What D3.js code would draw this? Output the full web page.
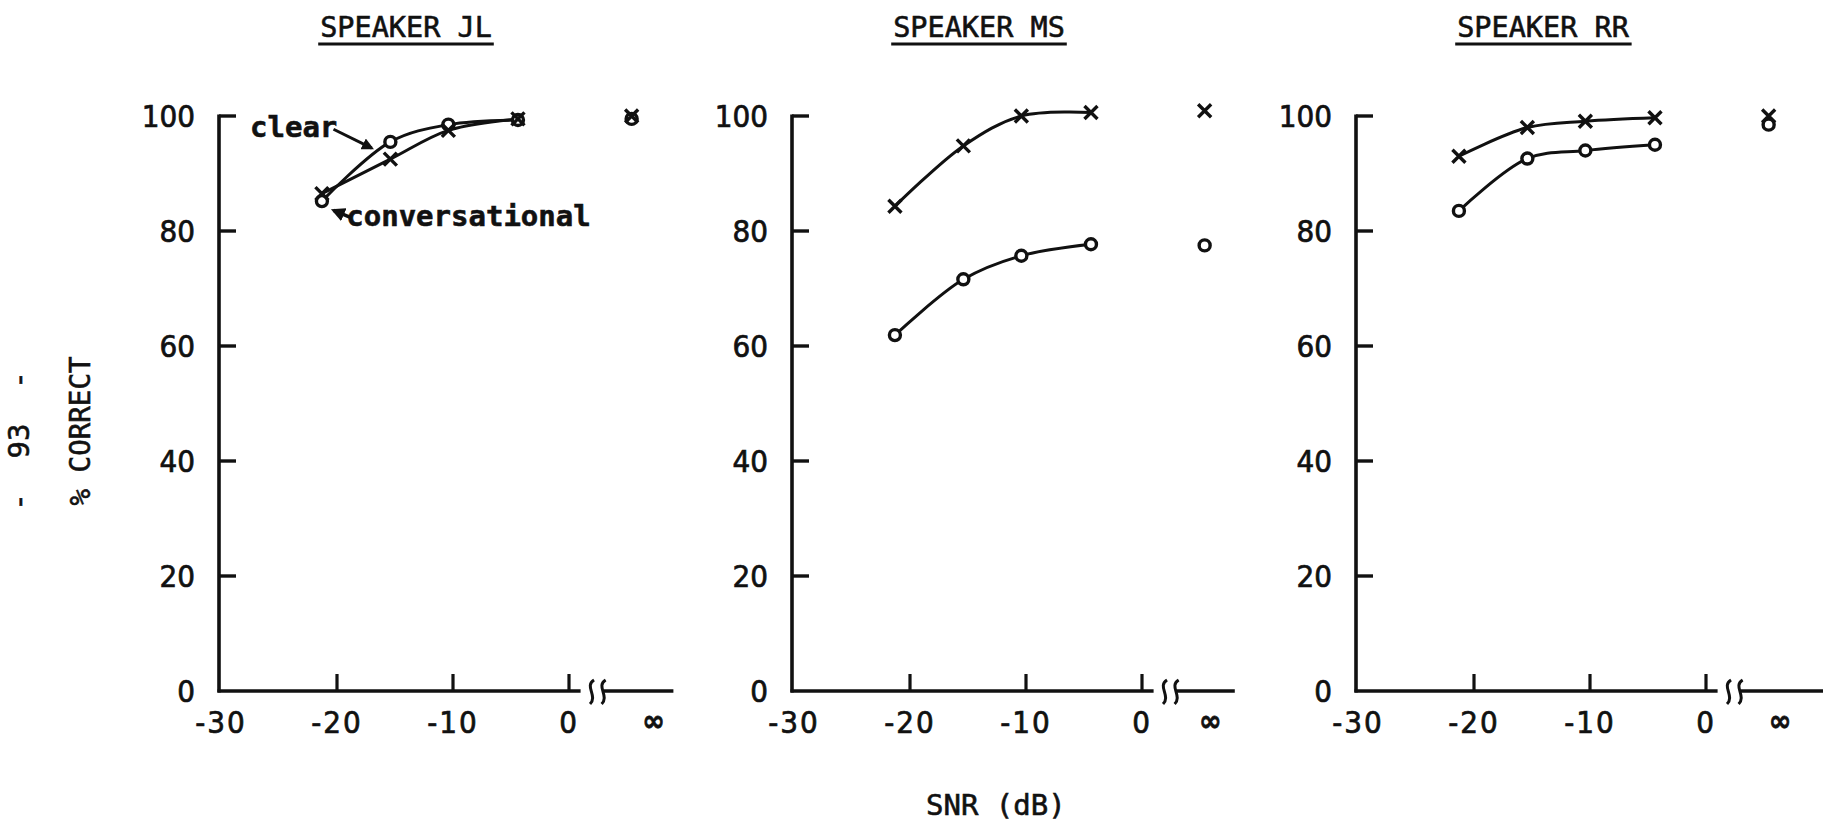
<!DOCTYPE html>
<html>
<head>
<meta charset="utf-8">
<script src="https://cdn.jsdelivr.net/npm/d3@7"></script>
<style>
  html, body { margin: 0; padding: 0; background: #fff; }
  svg { display: block; }
  .txt { font-family: "DejaVu Sans Mono", "Liberation Mono", monospace; fill: #111; stroke: #111; stroke-width: 0.6px; }
  .tick-label { font-family: "Liberation Sans Narrow", "DejaVu Sans Condensed", sans-serif; fill: #111; stroke: #111; stroke-width: 0.7px; }
</style>
</head>
<body>
<svg id="chart" width="1823" height="828"></svg>
<script>
// ---- data -------------------------------------------------------------
const speakers = ["SPEAKER JL", "SPEAKER MS", "SPEAKER RR"];
const snrLevels = [-21.3, -15.4, -10.4, -4.4];   // dB; the quiet condition is plotted at "∞"
const xTicks = [-30, -20, -10, 0];
const xTickLabels = ["-30", "-20", "-10", "0"];
const yTicks = [0, 20, 40, 60, 80, 100];

// % correct, clear speech (×)
const clearJL = [86.5, 92.5, 97.5, 99.5];
const clearMS = [84.3, 94.8, 100.0, 100.6];
const clearRR = [93.0, 98.0, 99.1, 99.7];
const clearQuiet = [100.0, 100.9, 100.0];

// % correct, conversational speech (○)
const convJL = [85.2, 95.5, 98.5, 99.3];
const convMS = [61.9, 71.6, 75.7, 77.7];
const convRR = [83.5, 92.6, 94.0, 95.0];
const convQuiet = [99.5, 77.5, 98.5];

const clearBySpeaker = [clearJL, clearMS, clearRR];
const convBySpeaker = [convJL, convMS, convRR];

// ---- layout -----------------------------------------------------------
const panels = [
  { axisX: 219,  infLabel: 7.3, axisEnd: 9.0 },
  { axisX: 792,  infLabel: 5.9, axisEnd: 8.0 },
  { axisX: 1356, infLabel: 6.4, axisEnd: 10.5 }
];
const quietPos = 5.4;          // x position (dB units) of the quiet column
const breakAt = [1.0, 1.9, 2.9, 3.0];
const yTop = 116, yBottom = 691;
const ink = "#111";

const svg = d3.select("#chart");
const y = d3.scaleLinear().domain([0, 100]).range([yBottom, yTop]);

const crossPath = s => `M${-s},${-s}L${s},${s}M${-s},${s}L${s},${-s}`;

const defs = svg.append("defs");
defs.append("marker").attr("id", "arrowhead")
  .attr("viewBox", "0 0 10 10").attr("refX", 8).attr("refY", 5)
  .attr("markerWidth", 4).attr("markerHeight", 4).attr("orient", "auto")
  .append("path").attr("d", "M0,0L10,5L0,10z").attr("fill", ink);

speakers.forEach((name, i) => {
  const p = panels[i];
  const x = d3.scaleLinear().domain([-30, 0]).range([p.axisX + 2, p.axisX + 2 + 348]);
  const g = svg.append("g");

  // title with underline
  const title = g.append("text").attr("class", "txt")
    .attr("x", p.axisX + 187).attr("y", 37)
    .attr("text-anchor", "middle").attr("font-size", 28.5)
    .text(name);
  const bb = title.node().getBBox();
  g.append("line")
    .attr("x1", bb.x - 2).attr("x2", bb.x + bb.width + 2)
    .attr("y1", 44).attr("y2", 44)
    .attr("stroke", ink).attr("stroke-width", 3);

  // y axis: vertical line with inward ticks
  g.append("line")
    .attr("x1", p.axisX).attr("x2", p.axisX)
    .attr("y1", y(100) - 1.5).attr("y2", y(0) + 1.5)
    .attr("stroke", ink).attr("stroke-width", 3.6);
  yTicks.filter(t => t > 0).forEach(t => {
    g.append("line")
      .attr("x1", p.axisX).attr("x2", p.axisX + 17)
      .attr("y1", y(t)).attr("y2", y(t))
      .attr("stroke", ink).attr("stroke-width", 3.4);
  });
  yTicks.forEach(t => {
    g.append("text").attr("class", "tick-label")
      .attr("x", p.axisX - 24).attr("y", y(t)).attr("dy", "0.36em")
      .attr("text-anchor", "end").attr("font-size", 31)
      .text(t);
  });

  // x axis with break before the quiet column
  const base = y(0);
  g.append("line")
    .attr("x1", p.axisX - 1.5).attr("x2", x(breakAt[0]))
    .attr("y1", base).attr("y2", base)
    .attr("stroke", ink).attr("stroke-width", 3.6);
  g.append("line")
    .attr("x1", x(breakAt[3])).attr("x2", x(p.axisEnd))
    .attr("y1", base).attr("y2", base)
    .attr("stroke", ink).attr("stroke-width", 3.6);
  [breakAt[1], breakAt[2]].forEach(b => {
    const bx = x(b);
    g.append("path")
      .attr("d", `M${bx + 3},${base - 11} C${bx - 7},${base - 5} ${bx + 7},${base + 5} ${bx - 1},${base + 13}`)
      .attr("fill", "none").attr("stroke", ink).attr("stroke-width", 3);
  });
  xTicks.filter(t => t > -30).forEach(t => {
    g.append("line")
      .attr("x1", x(t)).attr("x2", x(t))
      .attr("y1", base).attr("y2", base - 17)
      .attr("stroke", ink).attr("stroke-width", 3.2);
  });
  xTicks.forEach((t, k) => {
    g.append("text").attr("class", "tick-label")
      .attr("x", x(t)).attr("y", base + 42)
      .attr("text-anchor", "middle").attr("font-size", 31)
      .attr("letter-spacing", 2)
      .text(xTickLabels[k]);
  });
  g.append("text").attr("class", "tick-label")
    .attr("x", x(p.infLabel)).attr("y", base + 40)
    .attr("text-anchor", "middle").attr("font-size", 30)
    .attr("font-weight", "bold")
    .text("∞");

  // fitted curves
  const line = d3.line()
    .x(d => x(d[0])).y(d => y(d[1]))
    .curve(d3.curveCatmullRom.alpha(0.5));
  const clearPts = snrLevels.map((s, k) => [s, clearBySpeaker[i][k]]);
  const convPts = snrLevels.map((s, k) => [s, convBySpeaker[i][k]]);
  [clearPts, convPts].forEach(pts => {
    g.append("path").attr("d", line(pts))
      .attr("fill", "none").attr("stroke", ink).attr("stroke-width", 3);
  });

  // markers: × clear, ○ conversational (plus the quiet column)
  const crossData = clearPts.concat([[quietPos, clearQuiet[i]]]);
  const circData = convPts.concat([[quietPos, convQuiet[i]]]);
  g.selectAll(".circ").data(circData).enter().append("circle")
    .attr("cx", d => x(d[0])).attr("cy", d => y(d[1])).attr("r", 5.5)
    .attr("fill", "#fff").attr("stroke", ink).attr("stroke-width", 3.4);
  g.selectAll(".cross").data(crossData).enter().append("path")
    .attr("transform", d => `translate(${x(d[0])},${y(d[1])})`)
    .attr("d", crossPath(6.5))
    .attr("fill", "none").attr("stroke", ink).attr("stroke-width", 3.4);

  // legend annotations on the first panel
  if (i === 0) {
    g.append("text").attr("class", "txt")
      .attr("x", x(-27.5)).attr("y", y(96.3))
      .attr("font-size", 29).attr("font-weight", "bold")
      .text("clear");
    g.append("line")
      .attr("x1", x(-20.3)).attr("y1", y(97.7))
      .attr("x2", x(-17.0)).attr("y2", y(94.4))
      .attr("stroke", ink).attr("stroke-width", 3)
      .attr("marker-end", "url(#arrowhead)");

    g.append("text").attr("class", "txt")
      .attr("x", x(-19.2)).attr("y", y(80.9))
      .attr("font-size", 29).attr("font-weight", "bold")
      .text("conversational");
    g.append("line")
      .attr("x1", x(-18.9)).attr("y1", y(82.4))
      .attr("x2", x(-20.3)).attr("y2", y(83.6))
      .attr("stroke", ink).attr("stroke-width", 3.5)
      .attr("marker-end", "url(#arrowhead)");
  }
});

// shared axis titles
svg.append("text").attr("class", "txt")
  .attr("transform", "translate(90,431) rotate(-90)")
  .attr("text-anchor", "middle").attr("font-size", 27.5)
  .text("% CORRECT");
svg.append("text").attr("class", "txt")
  .attr("transform", "translate(29,441) rotate(-90)")
  .attr("text-anchor", "middle").attr("font-size", 29)
  .attr("xml:space", "preserve")
  .text("-  93  -");
svg.append("text").attr("class", "txt")
  .attr("x", 926).attr("y", 815)
  .attr("font-size", 29)
  .text("SNR (dB)");
</script>
</body>
</html>
